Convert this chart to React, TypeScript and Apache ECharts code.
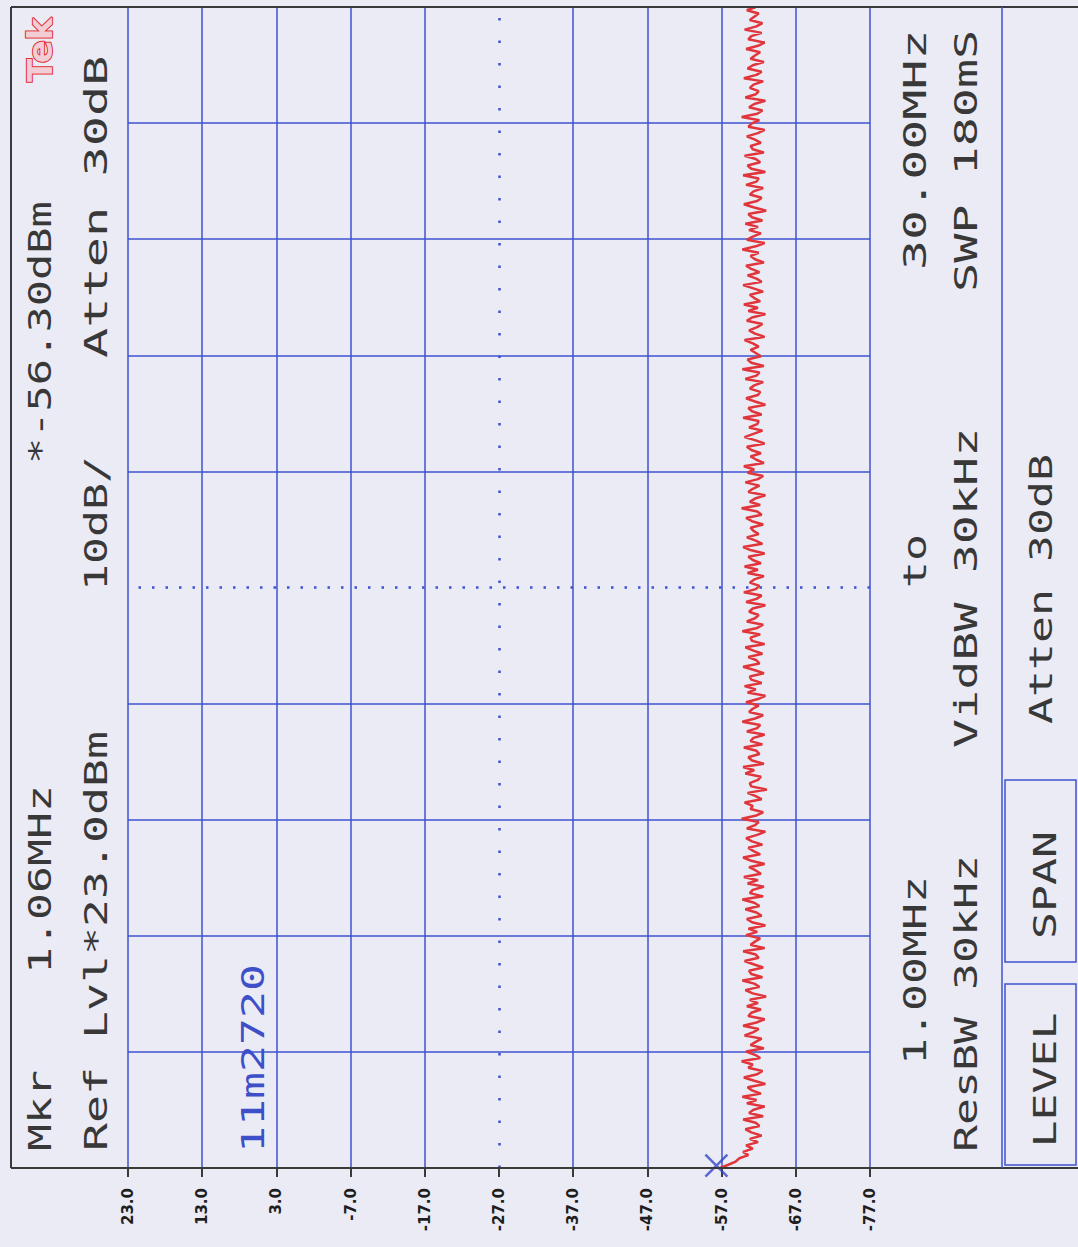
import React, { useEffect, useRef } from "react";
import * as echarts from "echarts";

// ---------- data ----------
const START_MHZ = 1.0;
const STOP_MHZ = 30.0;
const DB_TICKS = [23.0, 13.0, 3.0, -7.0, -17.0, -27.0, -37.0, -47.0, -57.0, -67.0, -77.0];
const DB_PER_DIV = 10;
const FREQ_DIVS = 10;
const MARKER_MHZ = 1.06;
const MARKER_DBM = -56.3;

const TRACE_DBM = [
  -56.8, -57.9, -58.9, -59.4, -60.6, -59.9, -61.2, -60.3, -61.9, -60.8, -62.4, -61.0, -60.2, -62.1, -61.6, -59.9, -62.6, -60.7, -61.3, -62.8,
  -60.4, -61.7, -59.8, -62.3, -61.1, -60.5, -62.9, -61.4, -60.0, -61.8, -62.5, -60.6, -61.2, -59.7, -62.2, -61.5, -60.3, -62.7, -60.9, -61.6,
  -62.4, -60.1, -61.3, -62.0, -59.9, -61.7, -62.8, -60.6, -61.0, -62.3, -60.4, -61.9, -60.8, -63.0, -61.2, -60.2, -62.1, -61.4, -59.8, -62.5,
  -61.0, -60.7, -62.6, -61.3, -60.1, -62.0, -61.6, -59.9, -62.8, -60.9, -61.5, -62.2, -60.3, -61.8, -60.6, -62.9, -61.1, -60.4, -62.4, -61.7,
  -60.2, -62.1, -61.4, -59.8, -62.6, -60.8, -61.2, -62.7, -60.5, -61.9, -60.0, -62.3, -61.6, -60.7, -62.8, -61.0, -59.9, -62.2, -61.3, -60.6,
  -62.5, -61.1, -60.3, -61.8, -62.9, -60.4, -61.5, -62.0, -59.7, -61.7, -62.6, -60.9, -61.2, -60.1, -62.4, -61.6, -60.5, -63.1, -61.0, -60.8,
  -61.9, -62.3, -60.2, -61.4, -59.9, -62.7, -61.1, -60.6, -62.1, -61.7, -60.0, -62.5, -60.9, -61.3, -62.8, -60.4, -61.8, -62.2, -59.8, -61.5,
  -62.6, -60.7, -61.2, -62.0, -60.3, -61.9, -62.9, -60.5, -61.6, -60.1, -62.4, -61.0, -60.8, -62.7, -61.4, -59.9, -62.1, -61.7, -60.6, -62.5,
  -61.3, -60.2, -62.8, -61.1, -60.9, -62.2, -59.8, -61.8, -62.6, -60.4, -61.5, -62.0, -60.7, -61.2, -62.9, -60.3, -61.7, -62.4, -60.0, -61.6,
  -62.1, -60.8, -61.4, -62.7, -60.5, -61.9, -60.1, -62.3, -61.2, -60.6, -62.8, -61.0, -59.9, -62.5, -61.6, -60.4, -62.0, -61.3, -60.9, -62.6,
  -61.1, -60.3, -62.4, -61.8, -59.7, -62.2, -60.8, -61.5, -62.9, -60.6, -61.2, -62.1, -60.2, -61.9, -62.6, -60.5, -61.4, -60.0, -62.7, -61.7,
  -60.9, -62.3, -61.0, -60.4, -62.8, -61.6, -60.1, -61.3, -62.5, -60.7, -61.8, -62.0, -59.9, -62.4, -61.1, -60.6, -62.9, -61.5, -60.3, -61.9,
  -62.2, -60.8, -61.4, -62.6, -60.2, -61.7, -62.1, -59.8, -62.7, -61.0, -60.5, -62.3, -61.6, -60.9, -62.0, -61.2, -60.1, -62.8, -61.5, -60.7,
  -61.8, -62.5, -60.4, -61.1, -62.9, -60.6, -61.9, -60.0, -62.2, -61.4, -60.8, -62.6, -61.3, -59.9, -62.4, -61.7, -60.5, -62.1, -61.0, -60.3,
  -62.7, -61.5, -60.9, -62.0, -59.8, -61.6, -62.8, -60.4, -61.2, -62.3, -60.7, -61.9, -60.2, -62.5, -61.1, -60.6, -63.0, -61.4, -60.0, -61.8,
  -62.4, -60.8, -61.3, -62.6, -60.3, -61.7, -62.0, -59.9, -62.9, -61.0, -60.5, -62.2, -61.6, -60.1, -62.7, -61.2, -60.9, -62.3, -61.5, -60.4,
  -61.9, -62.8, -60.6, -61.1, -62.1, -59.7, -61.8, -62.5, -60.7, -61.4, -62.9, -60.2, -61.6, -62.0, -60.8, -61.3, -62.6, -60.0, -61.7, -62.4,
  -60.5, -61.2, -62.7, -60.9, -61.5, -62.2, -60.3, -61.9, -62.8, -60.6, -61.0, -62.4, -60.1, -61.7, -62.5, -60.8, -61.4, -62.0, -60.4, -61.6,
];

// ---------- style ----------
const W = 1078;
const H = 1247;
const BG = "#ebebf5";
const GRID = "#3f52d0";
const FRAME = "#3a3a3a";
const TEXT = "#383838";
const BLUE_TEXT = "#3d4fc9";
const TRACE = "#e0363b";
const MONO = '"DejaVu Sans Mono", monospace';
const FS = 32;
const CHAR_W = 0.602 * FS;
const SX = 27 / CHAR_W;

const PLOT_L = 128;
const PLOT_R = 870;
const PLOT_T = 7;
const PLOT_B = 1168;

// text reading bottom-to-top, starting at y0; optional y1 = top end of the text
function vText(text: string, cx: number, y0: number, y1?: number, fill = TEXT, align = "left") {
  const sx = y1 === undefined ? SX : (y0 - y1) / ((text.length - 0.15) * CHAR_W);
  return {
    type: "text",
    x: cx,
    y: y0,
    rotation: Math.PI / 2,
    scaleX: sx,
    z: 20,
    silent: true,
    style: {
      text,
      fill,
      fontFamily: MONO,
      fontSize: FS,
      textAlign: align,
      textVerticalAlign: "middle",
      align,
      verticalAlign: "middle",
    },
  };
}

function frameLine(x1: number, y1: number, x2: number, y2: number, color: string, width: number) {
  return {
    type: "line",
    z: 15,
    silent: true,
    shape: { x1, y1, x2, y2 },
    style: { stroke: color, lineWidth: width },
  };
}

export default function App() {
  const ref = useRef<HTMLDivElement>(null);

  useEffect(() => {
    document.body.style.margin = "0";
    if (!ref.current) return;
    const chart = echarts.init(ref.current, undefined, { renderer: "svg" });

    const dbMax = DB_TICKS[0];
    const dbMin = DB_TICKS[DB_TICKS.length - 1];
    const dbCenter = DB_TICKS[Math.floor(DB_TICKS.length / 2)];
    const freqStep = (STOP_MHZ - START_MHZ) / FREQ_DIVS;
    const freqCenter = (START_MHZ + STOP_MHZ) / 2;

    const n = TRACE_DBM.length;
    const traceData = TRACE_DBM.map((v, i) => [v, START_MHZ + ((STOP_MHZ - START_MHZ) * i) / (n - 1)]);

    const xSplitColors = DB_TICKS.slice()
      .reverse()
      .map((t) => (t === dbCenter ? "rgba(0,0,0,0)" : GRID));
    const ySplitColors = Array.from({ length: FREQ_DIVS + 1 }, (_, i) =>
      i === 0 || i === FREQ_DIVS || i === FREQ_DIVS / 2 ? "rgba(0,0,0,0)" : GRID
    );

    const option: any = {
      animation: false,
      backgroundColor: BG,
      grid: {
        left: PLOT_L,
        right: W - PLOT_R,
        top: PLOT_T,
        bottom: H - PLOT_B,
        containLabel: false,
        outerBoundsMode: "none",
      },
      xAxis: {
        type: "value",
        min: dbMin,
        max: dbMax,
        interval: DB_PER_DIV,
        inverse: true,
        position: "bottom",
        axisLine: { show: true, lineStyle: { color: FRAME, width: 2 } },
        axisTick: { show: true, length: 9, lineStyle: { color: FRAME, width: 2 } },
        axisLabel: {
          rotate: 90,
          margin: 20,
          formatter: (v: number) => v.toFixed(1),
          fontSize: 15,
          fontWeight: "bold",
          fontFamily: '"DejaVu Sans", sans-serif',
          color: "#1e1e1e",
        },
        splitLine: { show: true, lineStyle: { color: xSplitColors, width: 1.5 } },
      },
      yAxis: {
        type: "value",
        min: START_MHZ,
        max: STOP_MHZ,
        interval: freqStep,
        axisLine: { show: false },
        axisTick: { show: false },
        axisLabel: { show: false },
        splitLine: { show: true, lineStyle: { color: ySplitColors, width: 1.5 } },
      },
      series: [
        {
          type: "line",
          data: traceData,
          symbol: "none",
          showSymbol: false,
          silent: true,
          z: 5,
          lineStyle: { color: TRACE, width: 2.5 },
          markLine: {
            silent: true,
            symbol: "none",
            label: { show: false },
            animation: false,
            data: [
              { xAxis: dbCenter, lineStyle: { color: GRID, width: 2.5, type: [2.5, 20] } },
              { yAxis: freqCenter, lineStyle: { color: GRID, width: 2.5, type: [2.5, 11] } },
            ],
          },
        },
        {
          type: "scatter",
          data: [[MARKER_DBM, MARKER_MHZ]],
          symbol: "path://M0 0L10 10M10 0L0 10",
          symbolSize: 22,
          silent: true,
          clip: false,
          z: 6,
          itemStyle: { color: "rgba(0,0,0,0)", borderColor: "#3346c8", borderWidth: 2.5 },
        },
      ],
      graphic: [
        frameLine(11, PLOT_T, 11, PLOT_B, FRAME, 2),
        frameLine(11, PLOT_T, W, PLOT_T, FRAME, 2),
        frameLine(11, PLOT_B, W, PLOT_B, FRAME, 2),
        frameLine(1002, PLOT_T, 1002, PLOT_B, GRID, 1.5),
        {
          type: "rect",
          z: 15,
          silent: true,
          shape: { x: 1005, y: 780, width: 71, height: 182 },
          style: { fill: "none", stroke: GRID, lineWidth: 1.5 },
        },
        {
          type: "rect",
          z: 15,
          silent: true,
          shape: { x: 1005, y: 984, width: 71, height: 181 },
          style: { fill: "none", stroke: GRID, lineWidth: 1.5 },
        },
        {
          type: "text",
          x: 40,
          y: 82,
          rotation: Math.PI / 2,
          z: 20,
          silent: true,
          style: {
            text: "Tek",
            fontFamily: '"DejaVu Sans", sans-serif',
            fontWeight: "bold",
            fontSize: 34,
            fill: "#f2cdd5",
            stroke: "#e22e2e",
            lineWidth: 2,
            textAlign: "left",
            textVerticalAlign: "middle",
            align: "left",
            verticalAlign: "middle",
          },
        },
        vText("Mkr", 40, 1151),
        vText("1.06MHz", 40, 974),
        vText("*-56.30dBm", 40, 464, 205),
        vText("Ref Lvl*23.0dBm", 96, 1151, 735),
        vText("10dB/", 96, 591),
        vText("Atten 30dB", 96, 358, 60),
        vText("11m2720", 253, 1153, undefined, BLUE_TEXT),
        vText("1.00MHz", 915, 1065),
        vText("to", 915, 588),
        vText("30.00MHz", 915, 270, 34),
        vText("ResBW 30kHz", 966, 1152),
        vText("VidBW 30kHz", 966, 748, 432),
        vText("SWP 180mS", 966, 292, 34),
        vText("Atten 30dB", 1041, 724),
        vText("SPAN", 1045, 885, undefined, TEXT, "center"),
        vText("LEVEL", 1045, 1080, undefined, TEXT, "center"),
      ],
    };

    chart.setOption(option);
    return () => chart.dispose();
  }, []);

  return <div ref={ref} style={{ width: W, height: H, background: BG }} />;
}
